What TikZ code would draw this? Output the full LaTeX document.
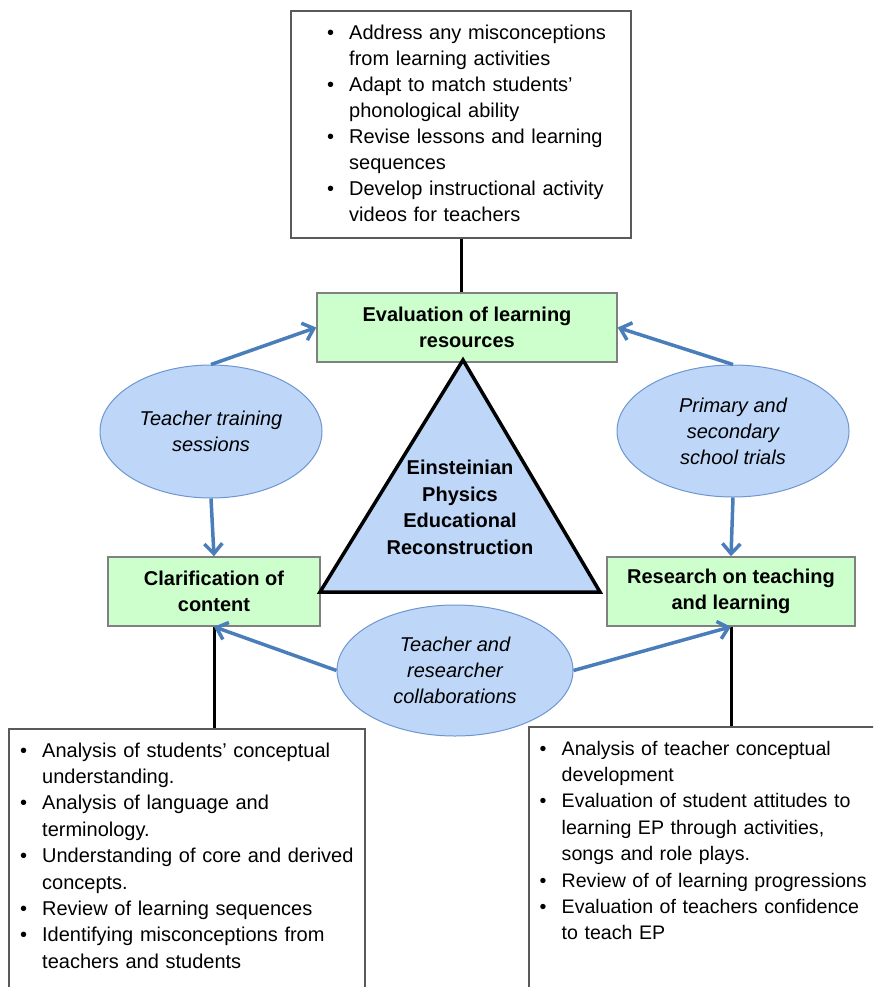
\documentclass[tikz,border=0pt]{standalone}
\usepackage{fontspec}
\setmainfont{Liberation Sans}
\usetikzlibrary{shapes.geometric,arrows.meta}
\definecolor{boxgreen}{RGB}{204,255,204}
\definecolor{greenedge}{RGB}{128,128,128}
\definecolor{listedge}{RGB}{90,90,90}
\definecolor{ellfill}{RGB}{190,215,248}
\definecolor{elledge}{RGB}{110,150,210}
\definecolor{arrowblue}{RGB}{74,126,187}
\newlength{\bw}\setlength{\bw}{22pt}
\newcommand{\bitem}[1]{\par\noindent\hangindent=\bw\hangafter=1\makebox[\bw][l]{\textbullet}\strut#1\strut\par}
\begin{document}
\begin{tikzpicture}[x=1pt,y=-1pt,
  greenbox/.style={draw=greenedge, fill=boxgreen, line width=1.5pt, inner sep=0pt, align=center,
    font=\fontsize{20}{26}\selectfont\bfseries},
  bubble/.style={ellipse, draw=elledge, fill=ellfill, line width=1pt, inner sep=0pt, align=center,
    font=\fontsize{20}{26}\selectfont\itshape},
  listbox/.style={draw=listedge, fill=white, line width=1.5pt, inner sep=0pt},
  listtext/.style={anchor=north west, inner sep=0pt, align=left},
  flow/.style={draw=arrowblue, line width=3.5pt, -{Straight Barb[length=10pt,width=18pt]}},
  link/.style={draw=black, line width=3pt},
  tri/.style={draw=black, fill=ellfill, line width=3.5pt, line join=miter}]
\useasboundingbox (0,0) rectangle (873,987);
\clip (0,0) rectangle (873,987);

% top list box
\node[listbox, minimum width=340pt, minimum height=227pt] (top) at (461,124.5) {};
\node[listtext, text width=300pt, font=\fontsize{20}{26}\selectfont] (toptext) at (327,13.5) {%
\bitem{Address any misconceptions\newline from learning activities}
\bitem{Adapt to match students'\newline phonological ability}
\bitem{Revise lessons and learning\newline sequences}
\bitem{Develop instructional activity\newline videos for teachers}};

% green boxes
\node[greenbox, minimum width=300pt, minimum height=69pt] (eval) at (467,327.5) {Evaluation of learning\\resources};
\node[greenbox, minimum width=212pt, minimum height=69pt] (clar) at (214,591.5) {Clarification of\\content};
\node[greenbox, minimum width=248pt, minimum height=69pt] (res) at (731,591.5) {Research on teaching\\and learning};

% triangle
\coordinate (apex) at (463,360);
\coordinate (bl) at (320,592);
\coordinate (br) at (600,592);
\draw[tri] (apex) -- (bl) -- (br) -- cycle;
\node[font=\fontsize{20}{26.5}\selectfont\bfseries, align=center, inner sep=0pt] (eptext) at (460,507.5)
  {Einsteinian\\Physics\\Educational\\Reconstruction};

% ellipses
\node[bubble, minimum width=222pt, minimum height=133pt] (train) at (211,431.5) {Teacher training\\sessions};
\node[bubble, minimum width=232pt, minimum height=132pt] (trials) at (733,431) {Primary and\\secondary\\school trials};
\node[bubble, minimum width=236pt, minimum height=131pt] (collab) at (455,670.5) {Teacher and\\researcher\\collaborations};

% bottom list boxes
\node[listbox, minimum width=356pt, minimum height=281pt] (lbox) at (187,869.5) {};
\node[listbox, minimum width=361pt, minimum height=283pt] (rbox) at (709.5,868.5) {};
\node[listtext, text width=335pt, font=\fontsize{20}{26.4}\selectfont] (ltext) at (20,730.5) {%
\bitem{Analysis of students' conceptual\newline understanding.}
\bitem{Analysis of language and\newline terminology.}
\bitem{Understanding of core and derived\newline concepts.}
\bitem{Review of learning sequences}
\bitem{Identifying misconceptions from\newline teachers and students}};
\node[listtext, text width=330pt, font=\fontsize{19.6}{26.4}\selectfont] (rtext) at (539.5,728.5) {%
\bitem{Analysis of teacher conceptual\newline development}
\bitem{Evaluation of student attitudes to\newline learning EP through activities,\newline songs and role plays.}
\bitem{Review of of learning progressions}
\bitem{Evaluation of teachers confidence\newline to teach EP}};

% black connectors
\draw[link] (top.south) -- (top.south |- eval.north);
\draw[link] (clar.south) -- (clar.south |- lbox.north);
\draw[link] (res.south) -- (res.south |- rbox.north);

% blue arrows
\draw[flow] (train.north) -- (eval.west);
\draw[flow] (trials.north) -- (eval.east);
\draw[flow] (train.south) -- (clar.north);
\draw[flow] (trials.south) -- (res.north);
\draw[flow] (collab.west) -- (clar.south);
\draw[flow] (collab.east) -- (res.south);
\end{tikzpicture}
\end{document}
